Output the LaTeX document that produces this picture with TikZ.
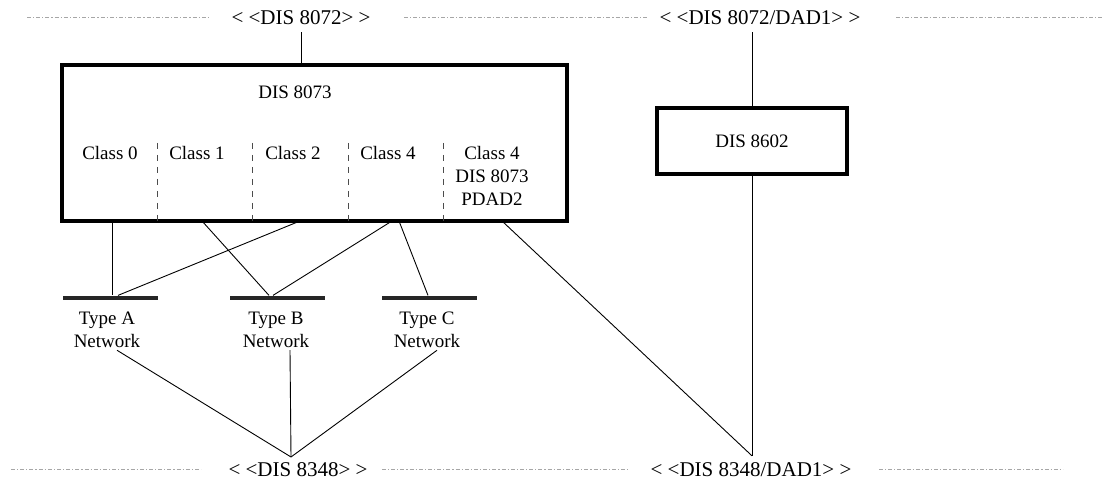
\documentclass[tikz,border=0pt]{standalone}
\usepackage{fontspec}
\setmainfont{Liberation Serif}
\usetikzlibrary{calc}

\begin{document}
\begin{tikzpicture}[x=0.5pt, y=-0.5pt, font=\fontsize{9.5}{11.5}\selectfont,
    frame/.style={draw, line width=2pt, rectangle, inner sep=0pt},
    bar/.style={fill=black!85, rectangle, inner sep=0pt, minimum width=47.5pt, minimum height=2.2pt},
    netlabel/.style={align=center, inner sep=1pt},
    std/.style={font=\fontsize{10.5}{12}\selectfont},
    link/.style={line width=0.45pt},
    sep/.style={dashed, line width=0.4pt, black!70},
    layer/.style={gray!70, line width=0.5pt, dash pattern=on 2pt off 1pt on 0.6pt off 1pt}]
            \useasboundingbox (0,0) rectangle (1104,485);

            \node[std] (top8072) at (301,18) {< <DIS 8072> >};
            \node[std] (topdad) at (760,18) {< <DIS 8072/DAD1> >};
            \node[std] (bot8348) at (298,470) {< <DIS 8348> >};
            \node[std] (botdad) at (751,470) {< <DIS 8348/DAD1> >};
            \draw[layer] (27,18) -- (210,18);
            \draw[layer] (404,18) -- (648,18);
            \draw[layer] (896,18) -- (1103,18);
            \draw[layer] (11,470) -- (201,470);
            \draw[layer] (382,470) -- (630,470);
            \draw[layer] (879,470) -- (1063,470);

            \node[frame, minimum width=252.5pt, minimum height=78pt] (box) at (314.5,143) {};
            \node (title) at (295,92) {DIS 8073};
            \node (cls0) at (110,153) {Class 0};
            \node (cls1) at (197,153) {Class 1};
            \node (cls2) at (293,153) {Class 2};
            \node (cls4) at (388,153) {Class 4};
            \node[align=center] (cls4pdad) at (492,176) {Class 4\\DIS 8073\\PDAD2};
            \foreach \x in {157,252,348,443}
                \draw[sep] (\x,143) -- (\x,143 |- box.south);

            \node[frame, minimum width=95pt, minimum height=33pt] (dad) at (752,141) {DIS 8602};

            \node[bar] (netA) at (110,298) {};
            \node[bar] (netB) at (277,298) {};
            \node[bar] (netC) at (429,298) {};
            \node[netlabel] (labA) at (107,330) {Type A\\Network};
            \node[netlabel] (labB) at (276,330) {Type B\\Network};
            \node[netlabel] (labC) at (427,330) {Type C\\Network};

            \coordinate (p0) at (112,221);
            \coordinate (p1) at (202,221);
            \coordinate (p2) at (300,221);
            \coordinate (p3) at (392,221);
            \coordinate (p3b) at (399,221);
            \coordinate (p4) at (502,221);
            \coordinate (apexL) at (291,457);
            \coordinate (apexR) at (dad.south |- botdad.north);

            \draw[link] (top8072.south) -- (top8072.south |- box.north);
            \draw[link] (topdad.south -| dad.north) -- (dad.north);
            \draw[link] (p0) -- (p0 |- netA.north);
            \draw[link] (p2) -- ([xshift=4pt]netA.north);
            \draw[link] (p1) -- ([xshift=-4pt]netB.north);
            \draw[link] (p3) -- ([xshift=-2pt]netB.north);
            \draw[link] (p3b) -- ([xshift=-0.5pt]netC.north);
            \draw[link] (p4) -- (apexR);
            \draw[link] (dad.south) -- (apexR);
            \draw[link] ([xshift=5pt]labA.south) -- (apexL);
            \draw[link] ([xshift=7pt]labB.south) -- (apexL);
            \draw[link] ([xshift=5pt]labC.south) -- (apexL);
        \end{tikzpicture}
\end{document}
